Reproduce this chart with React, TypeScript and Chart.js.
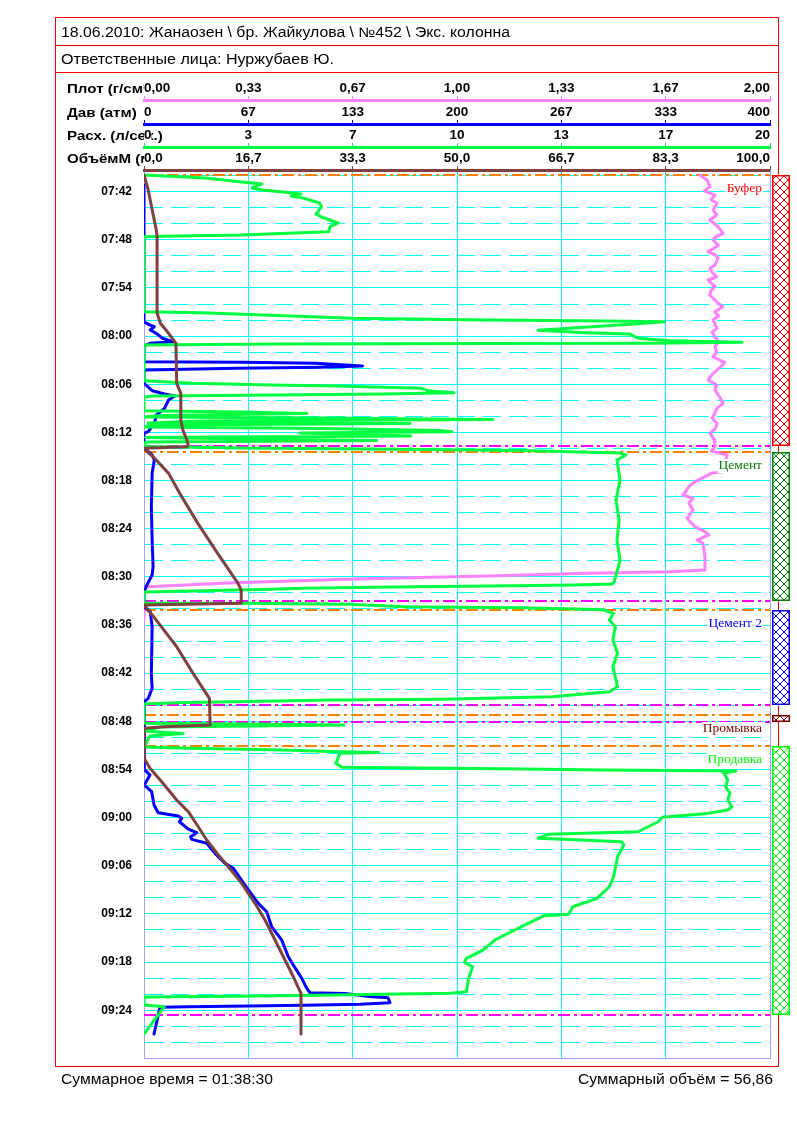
import React, { useEffect, useRef } from 'react';
import { Chart, registerables } from 'chart.js';

Chart.register(...registerables);

const PAGE_W = 797;
const PAGE_H = 1123;
const FONT_SANS = '"Liberation Sans", Arial, sans-serif';
const FONT_SERIF = '"Liberation Serif", "Times New Roman", serif';

const HEADER_TITLE = '18.06.2010: Жанаозен \\ бр. Жайкулова \\ №452 \\ Экс. колонна';
const HEADER_PERSONS = 'Ответственные лица: Нуржубаев Ю.';
const FOOTER_TIME = 'Суммарное время = 01:38:30';
const FOOTER_VOLUME = 'Суммарный объём = 56,86';

const AXIS_IDS = ['x', 'xPres', 'xFlow', 'xVol'];
const AXIS_TITLES = ['Плот (г/см³)', 'Дав (атм)', 'Расх. (л/сек.)', 'ОбъёмМ (м³)'];

// time axis: minutes after 07:40
const TIME_MIN = -0.7;
const TIME_MAX = 109.95;
const GRID_MINUTES = [0, 2, 4, 6, 8, 10, 12, 14, 16, 18, 20, 22, 24, 26, 28, 30, 32, 34, 36, 38, 40, 42, 44, 46, 48, 50, 52, 54, 56, 58, 60, 62, 64, 66, 68, 70, 72, 74, 76, 78, 80, 82, 84, 86, 88, 90, 92, 94, 96, 98, 100, 102, 104, 106, 108];
const LABEL_MINUTES = [2, 8, 14, 20, 26, 32, 38, 44, 50, 56, 62, 68, 74, 80, 86, 92, 98, 104];
const TIME_LABELS = ['07:42', '07:48', '07:54', '08:00', '08:06', '08:12', '08:18', '08:24', '08:30', '08:36', '08:42', '08:48', '08:54', '09:00', '09:06', '09:12', '09:18', '09:24'];

const DENS_TICKS = [0, 0.333333, 0.666667, 1, 1.333333, 1.666667, 2];
const DENS_LABELS = ['0,00', '0,33', '0,67', '1,00', '1,33', '1,67', '2,00'];
const PRES_TICKS = [0, 66.66667, 133.33333, 200, 266.66667, 333.33333, 400];
const PRES_LABELS = ['0', '67', '133', '200', '267', '333', '400'];
const FLOW_TICKS = [0, 3.333333, 6.666667, 10, 13.333333, 16.666667, 20];
const FLOW_LABELS = ['0', '3', '7', '10', '13', '17', '20'];
const VOL_TICKS = [0, 16.66667, 33.33333, 50, 66.66667, 83.33333, 100];
const VOL_LABELS = ['0,0', '16,7', '33,3', '50,0', '66,7', '83,3', '100,0'];

// stages
const STAGE_NAMES = ['Буфер', 'Цемент', 'Цемент 2', 'Промывка', 'Продавка'];
const STAGE_START = [-0.08, 34.48, 54.16, 67.25, 71.07];
const STAGE_END = [33.73, 53.04, 66.0, 68.12, 104.63];
const STAGE_COLORS = ['#FF0000', '#008000', '#0000FF', '#800000', '#00FF00'];

// Расход (л/сек)
const FLOW_T = [-0.08, 0.3, 0.8, 1.04, 1.54, 1.79, 2.04, 2.29, 2.54, 2.79, 3.41, 3.87, 4.78, 5.16, 5.9, 6.37, 6.99, 7.19, 7.4, 7.52, 7.61,
  16.96, 17.08, 17.49, 17.78, 17.99, 18.12, 18.2, 18.49, 19.28, 19.57, 19.74, 20.27, 20.57, 20.77, 20.9, 20.93, 20.98, 21.11,
  25.56, 25.88, 26.09, 26.22, 26.5, 26.8, 27.05, 27.21, 27.37, 27.46, 27.62,
  29.29, 29.46, 29.64, 29.89, 30.08, 30.2, 30.39, 30.58, 30.83, 30.89, 31.08, 31.33, 31.51, 31.76, 31.91, 32.07, 32.26, 32.45, 32.63, 32.82, 33.01, 33.19,
  33.75, 33.94, 34.07, 34.25, 34.57, 34.82, 35.44, 37.93, 40.42, 42.92, 45.41, 47.9, 49.77, 50.64, 50.89, 51.02, 51.14, 51.27, 51.43, 51.55, 51.89,
  53.26, 53.3, 53.42, 53.72, 53.85, 54.05, 54.13, 54.54, 55.37, 56.21, 57.87, 59.52, 61.19, 63.69, 64.31, 64.93, 65.26, 65.35, 65.68, 65.85,
  68.25, 68.34, 68.47, 68.71, 69.21, 69.53, 69.82, 71.19,
  71.36, 71.57, 71.78, 71.87, 71.99, 73.23, 73.73, 73.9, 74.07, 74.19, 74.48, 75.31, 76.15, 76.98, 77.81, 78.64, 79.05, 79.47, 79.96, 80.51,
  81.76, 82.08, 82.58, 82.71, 83.0, 83.42, 84.87, 87.36, 88.61, 90.06, 91.1, 92.05, 92.22, 93.59, 95.25, 96.5, 97.53, 98.03, 98.58, 100.03,
  101.69, 101.89, 102.23, 102.35, 103.35, 103.56, 106.96];
const FLOW_V = [0, 1.95, 3.13, 3.77, 3.45, 3.77, 4.44, 5.02, 4.7, 5.08, 5.61, 5.67, 5.5, 5.67, 6.2, 5.94, 5.9, 4.57, 3.13, 1.04, 0,
  0, 1.82, 4.7, 6.65, 10.96, 14.73, 16.63, 15.65, 12.59, 14.09, 15.53, 15.78, 16.82, 19.11, 16.17, 10.96, 4.18, 0,
  0, 1.57, 4.04, 6.13, 8.87, 9.07, 9.91, 7.7, 3.26, 0.26, 0,
  0, 3.07, 5.21, 0.51, 0, 5.62, 11.15, 1.79, 0.13, 8.5, 0.19, 0, 5.62, 9.46, 9.84, 4.98, 6.9, 8.53, 0.06, 3.39, 7.44, 0.06,
  0, 3.07, 7.22, 12.01, 15.21, 15.4, 15.11, 15.21, 15.08, 15.18, 15.11, 15.21, 15.08, 15.02, 14.95, 13.71, 11.09, 7.89, 5.08, 4.03, 0,
  0, 3.13, 6.52, 8.34, 12.01, 14.47, 14.7, 15.0, 14.87, 15.06, 14.98, 15.13, 14.98, 15.13, 14.87, 13.04, 9.52, 6.0, 1.04, 0,
  0, 3.39, 6.39, 0.51, 0, 1.25, 0.19, 0,
  1.44, 4.44, 6.26, 7.5, 6.26, 6.13, 6.33, 11.48, 14.67, 18.91, 18.52, 18.65, 18.58, 18.72, 18.65, 18.78, 18.65, 18.0, 16.56, 16.43,
  15.78, 12.91, 12.59, 13.57, 15.26, 15.33, 15.13, 15.0, 14.87, 14.47, 13.7, 13.57, 12.78, 12.06, 11.21, 10.83, 10.3, 10.24, 10.5, 10.37,
  10.3, 9.78, 3.78, 0, 0, 0.65, 0];

// Давление (атм)
const PRES_T = [1.17, 18.24, 18.62, 18.83, 19.24, 19.66, 20.27, 20.7, 20.9, 21.23, 23.19, 23.26, 23.39, 23.72, 23.89, 24.01, 24.22, 24.47,
  25.88, 26.8, 27.21, 27.46, 27.96, 29.0, 29.83, 30.87, 31.91, 32.11, 33.94, 34.81, 35.44, 37.1, 41.26, 45.41, 48.74, 49.77, 51.23, 52.01,
  53.72, 54.34, 56.21, 62.02, 63.89, 65.14, 65.6, 71.99, 73.98, 74.69, 75.94, 76.77, 78.43, 79.39, 79.8, 80.09, 80.51, 81.42, 81.88, 82.38,
  82.71, 83.2, 84.45, 85.7, 86.32, 88.4, 90.68, 91.73, 93.6, 95.25, 97.34, 98.37, 100.03, 101.27, 101.82, 101.9, 102.33, 102.44, 103.06,
  103.26, 103.39, 103.47, 103.56, 103.64, 106.96];
const PRES_V = [0, 0, 3.96, 6.58, 3.96, 7.86, 11.76, 18.34, 3.96, 0, 0, 63.9, 109.6, 139.6, 112.2, 58.8, 1.3, 0,
  0, 5.2, 13.1, 19.6, 15.7, 13.1, 7.9, 6.6, 2.7, 0, 0, 5.2, 6.6, 5.2, 4.7, 5.2, 5.8, 5.2, 1.3, 0,
  0, 4.0, 5.2, 4.7, 5.2, 2.7, 0, 0.2, 0.2, 3.8, 0.2, 4.9, 6.4, 9.1, 21.9, 24.1, 22.6, 28.3, 33.7, 29.8,
  30.5, 40.1, 45.4, 51.8, 57.1, 64.5, 73.0, 78.4, 81.6, 88.0, 92.2, 95.4, 100.8, 104.0, 106.1, 128.4, 145.7, 155.9, 157.2,
  138.0, 102.9, 66.6, 28.3, 10.2, 6.4];

// Плотность (г/см3)
const DENS_T = [-0.08, 0.55, 1.38, 1.9, 2.42, 3.0, 3.45, 4.28, 4.9, 5.53, 6.37, 7.19, 7.6, 8.02, 8.7, 9.48, 9.9, 10.3, 11.14, 11.6, 12.17,
  12.6, 13.01, 13.84, 14.3, 14.88, 15.91, 16.33, 16.96, 17.5, 17.99, 19.03, 19.5, 20.07, 20.7, 21.32, 22.0, 22.57, 23.31, 24.22, 24.8,
  25.47, 26.1, 26.72, 27.5, 28.37, 29.0, 29.62, 30.2, 30.87, 31.5, 32.12, 32.9, 33.78, 34.3, 34.82, 36.89, 37.06, 38.14, 38.76, 39.8,
  40.21, 40.83, 41.67, 42.7, 43.75, 44.37, 44.78, 45.41, 45.82, 47.49, 49.15, 49.36, 49.56, 49.89, 50.31, 50.8, 51.24];
const DENS_V = [1.776, 1.799, 1.808, 1.79, 1.824, 1.812, 1.831, 1.818, 1.83, 1.808, 1.834, 1.85, 1.828, 1.818, 1.835, 1.802, 1.826, 1.834, 1.824, 1.808, 1.818,
  1.83, 1.802, 1.824, 1.812, 1.808, 1.834, 1.85, 1.824, 1.836, 1.818, 1.831, 1.815, 1.824, 1.835, 1.824, 1.83, 1.818, 1.856, 1.831, 1.815,
  1.802, 1.83, 1.824, 1.838, 1.85, 1.83, 1.824, 1.815, 1.831, 1.826, 1.808, 1.822, 1.824, 1.812, 1.863, 1.852, 1.815, 1.76, 1.741, 1.722,
  1.754, 1.741, 1.754, 1.735, 1.76, 1.792, 1.805, 1.767, 1.786, 1.792, 1.792, 1.681, 1.422, 1.096, 0.639, 0.249, 0.013];
const DENS2_T = [53.63, 55.38];
const DENS2_V = [0, 0];

// Объём (м3)
const VOL_T = [-0.08, 1.79, 4.28, 6.78, 7.61, 17.12, 18.4, 19.65, 20.9, 25.88, 27.13, 30.45, 31.7, 32.95, 33.57, 33.78, 33.98,
  35.44, 37.1, 39.59, 43.33, 47.07, 50.8, 51.64, 53.3, 53.38, 53.51, 55.38, 58.71, 62.02, 65.14, 68.47, 68.67, 68.87,
  72.57, 73.85, 75.52, 77.8, 79.26, 81.13, 82.79, 84.66, 86.12, 88.19, 90.68, 92.76, 95.25, 97.74, 99.83, 101.9, 106.97];
const VOL_V = [0, 0.67, 1.31, 1.96, 2.09, 2.09, 2.62, 3.93, 5.1, 5.22, 5.88, 5.88, 6.21, 6.85, 7.06, 6.87, 0,
  1.96, 3.93, 5.7, 8.6, 11.76, 15.02, 15.53, 15.53, 9.14, 0, 1.96, 5.22, 7.84, 10.45, 10.57, 3.27, 0,
  0, 0.96, 2.83, 5.22, 7.08, 8.67, 10.02, 11.87, 13.47, 15.61, 17.73, 19.33, 20.93, 22.52, 23.85, 25.08, 25.08];

const C_PINK = '#FF80FF';
const C_BLUE = '#0000FF';
const C_GREEN = '#00FF40';
const C_BROWN = '#804040';
const C_GRID = '#00FFFF';
const C_FRAME = '#A0A0FF';

function mkSet(label: string, ts: number[], vs: number[], xAxisID: string, color: string) {
  return {
    label,
    data: ts.map((t, i) => ({ x: vs[i], y: t })),
    xAxisID,
    yAxisID: 'y',
    showLine: true,
    borderColor: color,
    backgroundColor: color,
    borderWidth: 3,
    pointRadius: 0,
    pointHoverRadius: 0,
    pointHitRadius: 0,
    borderJoinStyle: 'round',
    borderCapStyle: 'round',
    fill: false,
    tension: 0,
  };
}

function topAxis(min: number, max: number, ticks: number[], labels: string[], color: string, weight: number, height: number, onArea: boolean) {
  return {
    type: 'linear',
    position: 'top',
    axis: 'x',
    min,
    max,
    weight,
    afterBuildTicks: (s: any) => { s.ticks = ticks.map((v) => ({ value: v })); },
    afterFit: (s: any) => { s.height = height; s.paddingLeft = 0; s.paddingRight = 0; s.paddingTop = 0; s.paddingBottom = 0; },
    ticks: {
      align: 'inner',
      autoSkip: false,
      maxRotation: 0,
      minRotation: 0,
      padding: 0,
      color: '#000',
      font: { family: FONT_SANS, size: 13.5, weight: 'bold' },
      showLabelBackdrop: true,
      backdropColor: '#FFFFFF',
      backdropPadding: 0,
      callback: (_v: any, i: number) => labels[i],
    },
    grid: {
      drawOnChartArea: onArea,
      drawTicks: true,
      tickLength: 4,
      tickColor: color,
      tickWidth: 1,
      lineWidth: 1,
      color: (c: any) => (c.index === 0 || c.index === ticks.length - 1 ? 'rgba(0,0,0,0)' : C_GRID),
    },
    border: { display: true, color, width: 3 },
  };
}

function fitText(ctx: CanvasRenderingContext2D, text: string, x: number, y: number, width: number, font: string, alignRight = false) {
  ctx.save();
  ctx.font = font;
  ctx.fillStyle = '#000';
  ctx.textAlign = 'left';
  ctx.textBaseline = 'alphabetic';
  const m = ctx.measureText(text).width;
  const sx = width / m;
  ctx.translate(alignRight ? x - width : x, y);
  ctx.scale(sx, 1);
  ctx.fillText(text, 0, 0);
  ctx.restore();
}

function makeHatch(color: string) {
  const c = document.createElement('canvas');
  c.width = 8;
  c.height = 8;
  const g = c.getContext('2d')!;
  g.fillStyle = '#FFFFFF';
  g.fillRect(0, 0, 8, 8);
  g.fillStyle = color;
  for (let i = 0; i < 8; i++) {
    g.fillRect(i, i, 1, 1);
    g.fillRect(7 - i, i, 1, 1);
  }
  return c;
}

const decorPlugin = {
  id: 'decor',
  beforeDraw(chart: any) {
    const ctx: CanvasRenderingContext2D = chart.ctx;
    ctx.save();
    ctx.fillStyle = '#FFFFFF';
    ctx.fillRect(0, 0, PAGE_W, PAGE_H);
    ctx.strokeStyle = '#FF0000';
    ctx.lineWidth = 1;
    ctx.strokeRect(55.5, 17.5, 723, 1049);
    ctx.beginPath();
    ctx.moveTo(55, 45.5); ctx.lineTo(779, 45.5);
    ctx.moveTo(55, 72.5); ctx.lineTo(779, 72.5);
    ctx.stroke();
    fitText(ctx, HEADER_TITLE, 61, 37, 449, `14px ${FONT_SANS}`);
    fitText(ctx, HEADER_PERSONS, 61, 64, 273, `14px ${FONT_SANS}`);
    fitText(ctx, FOOTER_TIME, 61, 1084, 212, `14px ${FONT_SANS}`);
    fitText(ctx, FOOTER_VOLUME, 773, 1084, 195, `14px ${FONT_SANS}`, true);
    ctx.font = `bold 13.5px ${FONT_SANS}`;
    ctx.fillStyle = '#000';
    ctx.textAlign = 'left';
    ctx.textBaseline = 'alphabetic';
    AXIS_IDS.forEach((id, i) => {
      const s = chart.scales[id];
      ctx.save();
      ctx.translate(67, s.bottom - 7.5);
      ctx.scale(1.12, 1);
      ctx.fillText(AXIS_TITLES[i], 0, 0);
      ctx.restore();
    });
    ctx.restore();
  },
  beforeDatasetsDraw(chart: any) {
    const ctx: CanvasRenderingContext2D = chart.ctx;
    const { left, right, top, bottom } = chart.chartArea;
    const ys = chart.scales.y;
    ctx.save();
    ctx.strokeStyle = C_FRAME;
    ctx.lineWidth = 1;
    ctx.beginPath();
    ctx.moveTo(right + 0.5, top);
    ctx.lineTo(right + 0.5, bottom + 1);
    ctx.moveTo(left, bottom + 0.5);
    ctx.lineTo(right + 1, bottom + 0.5);
    ctx.stroke();
    ctx.lineWidth = 2;
    ctx.setLineDash([12, 4, 3, 4]);
    for (let i = 0; i < STAGE_NAMES.length; i++) {
      const y0 = Math.round(ys.getPixelForValue(STAGE_START[i]));
      const y1 = Math.round(ys.getPixelForValue(STAGE_END[i]));
      ctx.strokeStyle = '#FF8000';
      ctx.beginPath(); ctx.moveTo(left, y0); ctx.lineTo(right, y0); ctx.stroke();
      ctx.strokeStyle = '#FF00FF';
      ctx.beginPath(); ctx.moveTo(left, y1); ctx.lineTo(right, y1); ctx.stroke();
    }
    ctx.restore();
  },
  afterDatasetsDraw(chart: any) {
    const ctx: CanvasRenderingContext2D = chart.ctx;
    const ys = chart.scales.y;
    ctx.save();
    ctx.font = `13.5px ${FONT_SERIF}`;
    ctx.textAlign = 'right';
    ctx.textBaseline = 'alphabetic';
    for (let i = 0; i < STAGE_NAMES.length; i++) {
      const base = Math.round(ys.getPixelForValue(STAGE_START[i])) + 17;
      const w = ctx.measureText(STAGE_NAMES[i]).width;
      ctx.fillStyle = '#FFFFFF';
      ctx.fillRect(762 - w - 1, base - 10, w + 2, 14);
      ctx.fillStyle = STAGE_COLORS[i];
      ctx.fillText(STAGE_NAMES[i], 762, base);
    }
    ctx.restore();
  },
  afterDraw(chart: any) {
    const ctx: CanvasRenderingContext2D = chart.ctx;
    const ys = chart.scales.y;
    ctx.save();
    ctx.strokeStyle = '#FF0000';
    ctx.lineWidth = 1;
    ctx.beginPath();
    ctx.moveTo(778.5, 72);
    ctx.lineTo(778.5, 1066);
    ctx.stroke();
    for (let i = 0; i < STAGE_NAMES.length; i++) {
      const y0 = Math.round(ys.getPixelForValue(STAGE_START[i]));
      const y1 = Math.round(ys.getPixelForValue(STAGE_END[i]));
      const pat = ctx.createPattern(makeHatch(STAGE_COLORS[i]), 'repeat');
      ctx.fillStyle = pat as any;
      ctx.fillRect(772, y0, 18, y1 - y0);
      ctx.strokeStyle = STAGE_COLORS[i];
      ctx.lineWidth = 1.5;
      ctx.strokeRect(772.75, y0 + 0.75, 16.5, y1 - y0 - 1.5);
    }
    ctx.restore();
  },
};

export default function App() {
  const ref = useRef<HTMLCanvasElement>(null);
  useEffect(() => {
    const canvas = ref.current;
    if (!canvas) return;
    const config: any = {
      type: 'scatter',
      data: {
        datasets: [
          mkSet('Объём', VOL_T, VOL_V, 'xVol', C_BROWN),
          mkSet('Расход', FLOW_T, FLOW_V, 'xFlow', C_GREEN),
          mkSet('Давление', PRES_T, PRES_V, 'xPres', C_BLUE),
          mkSet('Плотность', DENS_T, DENS_V, 'x', C_PINK),
          mkSet('Плотность 2', DENS2_T, DENS2_V, 'x', C_PINK),
        ],
      },
      options: {
        animation: false,
        responsive: false,
        maintainAspectRatio: false,
        devicePixelRatio: 1,
        events: [],
        layout: { padding: { left: 55, top: 77, right: 27, bottom: 65 } },
        plugins: { legend: { display: false }, tooltip: { enabled: false }, title: { display: false } },
        scales: {
          y: {
            type: 'linear',
            position: 'left',
            reverse: true,
            min: TIME_MIN,
            max: TIME_MAX,
            afterBuildTicks: (s: any) => { s.ticks = GRID_MINUTES.map((v) => ({ value: v })); },
            afterFit: (s: any) => { s.width = 89; s.paddingLeft = 0; s.paddingRight = 0; s.paddingTop = 0; s.paddingBottom = 0; },
            ticks: {
              autoSkip: false,
              padding: 12,
              color: '#000',
              font: { family: FONT_SANS, size: 12, weight: 'bold' },
              callback: (v: any) => {
                const k = LABEL_MINUTES.indexOf(v);
                return k >= 0 ? TIME_LABELS[k] : '';
              },
            },
            grid: { color: C_GRID, lineWidth: 1, drawTicks: false },
            border: {
              display: true,
              color: C_FRAME,
              width: 1,
              dash: (c: any) => (!c.tick || LABEL_MINUTES.indexOf(c.tick.value) >= 0 ? [] : [18, 8]),
            },
          },
          x: topAxis(0, 2, DENS_TICKS, DENS_LABELS, C_PINK, 4, 23, true),
          xPres: topAxis(0, 400, PRES_TICKS, PRES_LABELS, C_BLUE, 3, 24, false),
          xFlow: topAxis(0, 20, FLOW_TICKS, FLOW_LABELS, C_GREEN, 2, 23, false),
          xVol: topAxis(0, 100, VOL_TICKS, VOL_LABELS, C_BROWN, 1, 23, false),
        },
      },
      plugins: [decorPlugin],
    };
    const chart = new Chart(canvas, config);
    return () => chart.destroy();
  }, []);
  return (
    <div style={{ position: 'absolute', left: 0, top: 0, width: PAGE_W, height: PAGE_H, background: '#FFFFFF', overflow: 'hidden' }}>
      <canvas ref={ref} width={PAGE_W} height={PAGE_H} style={{ display: 'block', width: PAGE_W, height: PAGE_H }} />
    </div>
  );
}
